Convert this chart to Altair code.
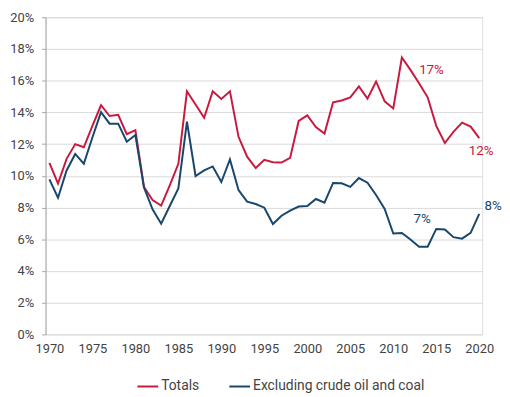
import altair as alt
import pandas as pd

years = list(range(1970, 2021))
totals = [10.82, 9.51, 11.07, 12.0, 11.8, 13.15, 14.45, 13.77, 13.85, 12.63,
          12.88, 9.3, 8.47, 8.12, 9.4, 10.76, 15.33, 14.5, 13.66, 15.33,
          14.85, 15.33, 12.46, 11.21, 10.49, 11.01, 10.86, 10.84, 11.13, 13.46,
          13.81, 13.08, 12.67, 14.64, 14.75, 14.95, 15.64, 14.87, 15.95, 14.7,
          14.25, 17.46, 16.68, 15.84, 14.95, 13.15, 12.07, 12.77, 13.35, 13.1,
          12.38]
excl = [9.78, 8.62, 10.34, 11.38, 10.76, 12.42, 14.02, 13.29, 13.29, 12.15,
        12.57, 9.26, 7.89, 6.98, 8.1, 9.2, 13.42, 9.99, 10.34, 10.59,
        9.61, 11.03, 9.1, 8.37, 8.22, 7.99, 6.96, 7.48, 7.81, 8.06,
        8.1, 8.54, 8.31, 9.55, 9.53, 9.3, 9.86, 9.57, 8.79, 7.91,
        6.36, 6.4, 5.98, 5.53, 5.53, 6.65, 6.61, 6.13, 6.04, 6.4,
        7.6]
series_names = ["Totals", "Excluding crude oil and coal"]
colors = ["#C8193F", "#17476D"]
y_ticks = list(range(0, 21, 2))
x_ticks = list(range(1970, 2021, 5))

df = pd.DataFrame(
    {"year": years * 2,
     "value": totals + excl,
     "series": [series_names[0]] * len(years) + [series_names[1]] * len(years)}
)

# annotation labels: (series, year anchored, text)
labels = [
    (series_names[0], 2011, "17%"),
    (series_names[0], 2020, "12%"),
    (series_names[1], 2013, "7%"),
    (series_names[1], 2020, "8%"),
]
offsets = [(30, 13), (2, 13), (3, -28), (14, -8)]

x_scale = alt.Scale(domain=[1969.55, 2020.35], nice=False, zero=False)
y_scale = alt.Scale(domain=[0, 20], nice=False)

x_axis = alt.Axis(values=x_ticks, format="d", title=None, grid=False,
                  ticks=False, domain=False, labelFontSize=13,
                  labelColor="#444444", labelPadding=8,
                  labelFont="Roboto", labelOverlap=False)
y_axis = alt.Axis(values=y_ticks, title=None, labelExpr="datum.value + '%'",
                  gridColor="#D9D9D9", domainColor="#A6A6A6",
                  tickColor="#A6A6A6", tickSize=4, labelFontSize=13,
                  labelColor="#444444", labelPadding=8,
                  labelFont="Roboto", labelOverlap=False)

lines = alt.Chart(df).mark_line(strokeWidth=2).encode(
    x=alt.X("year:Q", scale=x_scale, axis=x_axis),
    y=alt.Y("value:Q", scale=y_scale, axis=y_axis),
    color=alt.Color("series:N",
                    scale=alt.Scale(domain=series_names, range=colors),
                    sort=series_names,
                    legend=alt.Legend(title=None, orient="none",
                                      legendX=92, legendY=362,
                                      direction="horizontal",
                                      symbolType="stroke", symbolStrokeWidth=2,
                                      symbolSize=441, labelFontSize=14,
                                      labelColor="#444444", labelFont="Roboto",
                                      labelLimit=400,
                                      columnPadding=26, symbolOffset=0,
                                      labelOffset=2)),
)

layers = [lines]
for (s, yr, txt), (dx, dy) in zip(labels, offsets):
    idx = years.index(yr)
    val = totals[idx] if s == series_names[0] else excl[idx]
    ldf = pd.DataFrame({"year": [yr], "value": [val], "text": [txt]})
    col = colors[series_names.index(s)]
    layers.append(
        alt.Chart(ldf).mark_text(dx=dx, dy=dy, fontSize=13.5, color=col,
                                 font="Roboto", align="center",
                                 baseline="middle").encode(
            x=alt.X("year:Q", scale=x_scale, axis=x_axis),
            y=alt.Y("value:Q", scale=y_scale, axis=y_axis),
            text="text:N",
        )
    )

chart = alt.layer(*layers).properties(
    width=442, height=321,
    autosize=alt.AutoSizeParams(type="none"),
    padding={"left": 38, "top": 7, "right": 20, "bottom": 60},
).configure_view(strokeWidth=0).configure(background="white")

chart.save("out.html", embed_options={"renderer": "svg", "actions": False})
